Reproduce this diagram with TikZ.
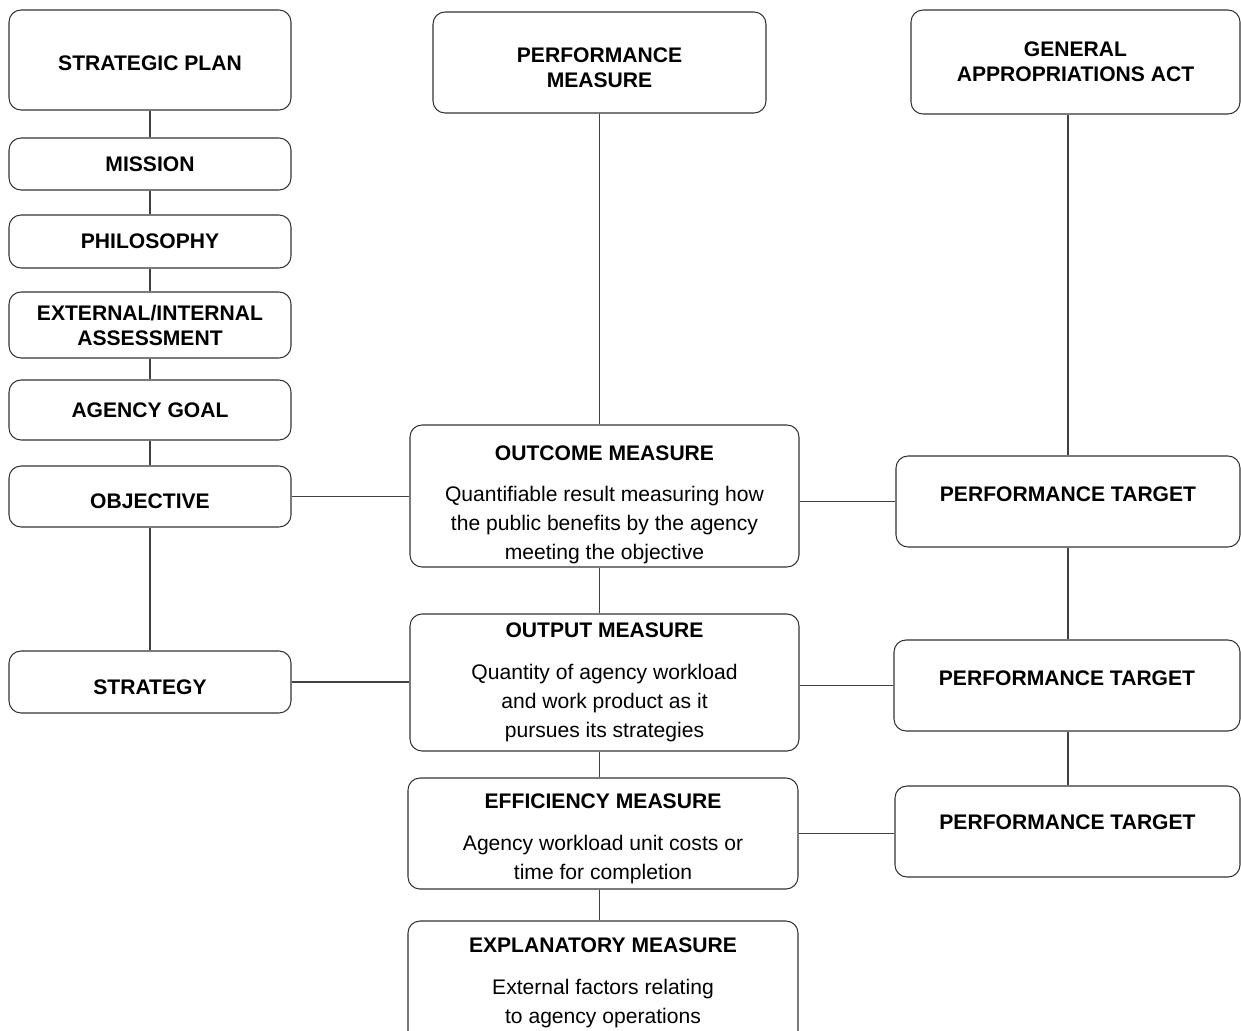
\documentclass[tikz,border=0pt]{standalone}
\usepackage{fontspec}
\setmainfont{Liberation Sans}

\begin{document}
\begin{tikzpicture}
    [
        x=0.2mm, y=-0.2mm,
        box/.style={rectangle, rounded corners=2.4mm, draw=black!80, line width=0.6pt,
            align=center, inner sep=2pt, font=\bfseries\fontsize{12}{14.2}\selectfont},
        measure/.style={box, font=\fontsize{12}{16.5}\selectfont},
        link/.style={draw=black!75, line width=0.6pt},
    ]
    \useasboundingbox (0,0) rectangle (1241,1030);

    % left column: strategic plan
    \node (plan) at (150,60)     [box, minimum width=56.4mm, minimum height=20mm] {\rule{0pt}{12pt}STRATEGIC PLAN};
    \node (mission) at (150,164) [box, minimum width=56.4mm, minimum height=10.4mm] {MISSION};
    \node (philo) at (150,241.5) [box, minimum width=56.4mm, minimum height=10.6mm] {PHILOSOPHY};
    \node (assess) at (150,325)  [box, minimum width=56.4mm, minimum height=13.2mm] {EXTERNAL/INTERNAL\\ASSESSMENT};
    \node (goal) at (150,410)    [box, minimum width=56.4mm, minimum height=12mm] {AGENCY GOAL};
    \node (obj) at (150,496.5)   [box, minimum width=56.4mm, minimum height=12.2mm] {\rule{0pt}{14pt}OBJECTIVE};
    \node (strat) at (150,682)   [box, minimum width=56.4mm, minimum height=12.4mm] {\rule{0pt}{14.5pt}STRATEGY};

    % middle column: measures
    \node (perf) at (599.5,62.5) [box, minimum width=66.6mm, minimum height=20.2mm] {\rule{0pt}{14pt}PERFORMANCE\\MEASURE};
    \node (outcome) at (604.5,496) [measure, minimum width=77.8mm, minimum height=28.4mm]
        {\rule{0pt}{18pt}\textbf{OUTCOME MEASURE}\\[6.8pt]Quantifiable result measuring how\\the public benefits by the agency\\meeting the objective};
    \node (output) at (604.5,682.5) [measure, minimum width=77.8mm, minimum height=27.4mm]
        {\textbf{OUTPUT MEASURE}\\[7.3pt]Quantity of agency workload\\and work product as it\\pursues its strategies};
    \node (effic) at (603,833.5) [measure, minimum width=78mm, minimum height=22.2mm]
        {\rule{0pt}{14.5pt}\textbf{EFFICIENCY MEASURE}\\[7.8pt]Agency workload unit costs or\\time for completion};
    \node (expl) at (603,982.5) [measure, minimum width=78mm, minimum height=24.6mm]
        {\textbf{EXPLANATORY MEASURE}\\[7.3pt]External factors relating\\to agency operations};

    % right column: appropriations
    \node (gaa) at (1075.5,62) [box, minimum width=65.8mm, minimum height=20.8mm] {GENERAL\\APPROPRIATIONS ACT};
    \node (target1) at (1068,501.5) [box, minimum width=68.8mm, minimum height=18.2mm] {\rule[-8pt]{0pt}{0pt}PERFORMANCE TARGET};
    \node (target2) at (1067,685.5) [box, minimum width=69.2mm, minimum height=18.2mm] {\rule[-8pt]{0pt}{0pt}PERFORMANCE TARGET};
    \node (target3) at (1067.5,831.5) [box, minimum width=69mm, minimum height=18.2mm] {\rule[-11pt]{0pt}{0pt}PERFORMANCE TARGET};

    % vertical links
    \draw [link] (plan) -- (mission);
    \draw [link] (mission) -- (philo);
    \draw [link] (philo) -- (assess);
    \draw [link] (assess) -- (goal);
    \draw [link] (goal) -- (obj);
    \draw [link] (obj) -- (strat);
    \draw [link] (perf.south) -- (perf.south |- outcome.north);
    \draw [link] (outcome.south -| perf.south) -- (output.north -| perf.south);
    \draw [link] (output.south -| perf.south) -- (effic.north -| perf.south);
    \draw [link] (effic.south -| perf.south) -- (expl.north -| perf.south);
    \draw [link] (target1.north |- gaa.south) -- (target1.north);
    \draw [link] (target1.south) -- (target2.north -| target1.south);
    \draw [link] (target2.south -| target1.south) -- (target3.north -| target1.south);

    % horizontal links
    \draw [link] (obj.east) -- (obj.east -| outcome.west);
    \draw [link] (outcome.east |- target1.west) -- (target1.west);
    \draw [link] (strat.east) -- (strat.east -| output.west);
    \draw [link] (output.east |- target2.west) -- (target2.west);
    \draw [link] (effic.east) -- (effic.east -| target3.west);

\end{tikzpicture}
\end{document}
